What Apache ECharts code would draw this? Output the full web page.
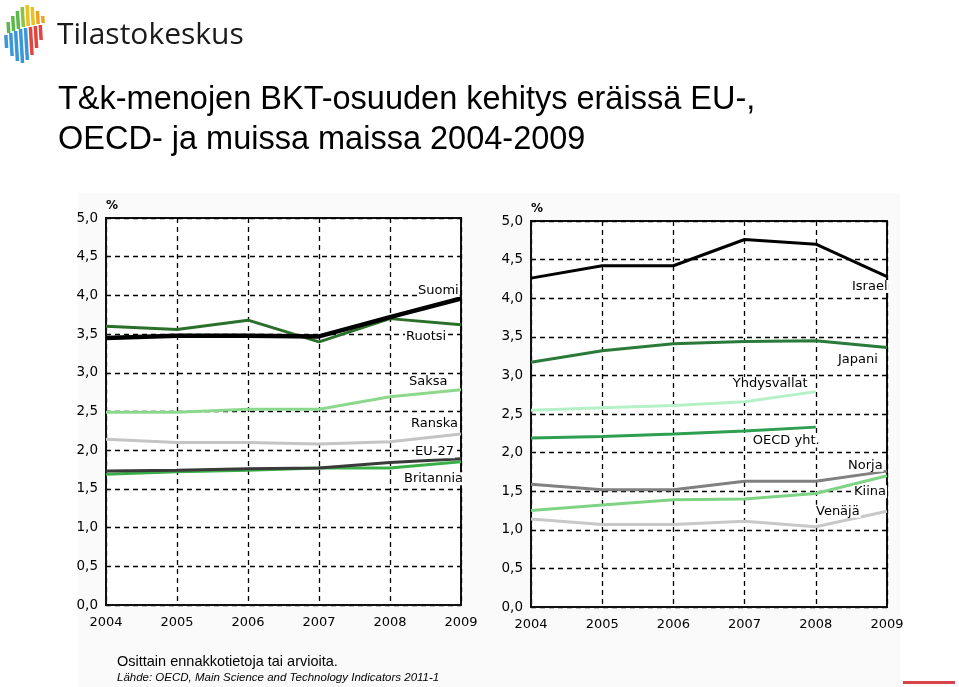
<!DOCTYPE html>
<html><head><meta charset="utf-8">
<script src="https://cdn.jsdelivr.net/npm/echarts@6/dist/echarts.min.js"></script>
<style>html,body{margin:0;padding:0;background:#fff}#c{width:959px;height:687px}</style>
</head><body><div id="c"></div>
<script>
const years = ['2004','2005','2006','2007','2008','2009'];

// Left panel
const suomi     = [3.45,3.48,3.48,3.47,3.72,3.96];
const ruotsi    = [3.60,3.56,3.68,3.40,3.70,3.62];
const saksa     = [2.49,2.49,2.53,2.53,2.69,2.78];
const ranska    = [2.14,2.10,2.10,2.08,2.11,2.21];
const eu27      = [1.73,1.74,1.76,1.77,1.84,1.89];
const britannia = [1.69,1.72,1.74,1.77,1.77,1.85];

// Right panel
const israel      = [4.26,4.42,4.42,4.76,4.70,4.28];
const japani      = [3.17,3.32,3.41,3.44,3.45,3.36];
const yhdysvallat = [2.55,2.58,2.61,2.66,2.79];
const oecd        = [2.19,2.21,2.24,2.28,2.33];
const norja       = [1.59,1.52,1.52,1.63,1.63,1.76];
const kiina       = [1.25,1.32,1.39,1.40,1.47,1.70];
const venaja      = [1.14,1.07,1.07,1.11,1.04,1.24];

const FONT = 'DejaVu Sans';
const dash = [5,4];

function xAx(gi){
  return {type:'category', gridIndex:gi, data:years, boundaryGap:false,
    axisLine:{lineStyle:{color:'#111',width:2}}, axisTick:{show:false},
    axisLabel:{color:'#000',fontFamily:FONT,fontSize:13,margin:11,interval:0},
    splitLine:{show:true,lineStyle:{color:'#000',type:dash,width:1.3}}};
}
function yAx(gi){
  return {type:'value', gridIndex:gi, min:0, max:5, interval:0.5,
    name:'%', nameLocation:'end', nameGap:6,
    nameTextStyle:{align:'left',color:'#000',fontFamily:FONT,fontSize:12,fontWeight:'bold'},
    axisLine:{show:true,lineStyle:{color:'#111',width:2}}, axisTick:{show:false},
    axisLabel:{color:'#000',fontFamily:FONT,fontSize:13.5,margin:8,
      formatter:v=>v.toFixed(1).replace('.',',')},
    splitLine:{show:true,lineStyle:{color:'#000',type:dash,width:1.3}}};
}
function ser(name,data,gi,color,w,off,z){
  return {type:'line', name, data, xAxisIndex:gi, yAxisIndex:gi,
    symbol:'none', smooth:false, z:z||2,
    lineStyle:{color,width:w},
    endLabel:{show:true, formatter:name, position:'left', distance:0,
      offset:off, color:'#000', fontFamily:FONT, fontSize:13,
      backgroundColor:'#fff', padding:[0,1]}};
}

// logo columns: [x, topColor, topStart, topEnd, bottomColor, bottomStart, bottomEnd]
const logoCols = [
  [5,'#5cb84a',22,33,'#3b97d8',35,48],
  [10,'#5cb84a',16,31,'#3b97d8',33,56],
  [15,'#5cb84a',11,29,'#3b97d8',31,61],
  [20,'#8cc63f',7,27,'#3b97d8',29,63],
  [25,'#e9c21f',5,26,'#3b97d8',28,60],
  [30,'#e9c21f',7,25,'#e0463f',27,55],
  [35,'#f0a21f',11,24,'#e0463f',26,48],
  [40,'#f0a21f',16,23,'#e0463f',25,40]
];
const logoGraphics = [];
logoCols.forEach(c=>{
  const [x,tc,t0,t1,bc,b0,b1]=c;
  const sk=0.06;
  logoGraphics.push({type:'polygon',z:10,shape:{points:[[x+t0*sk,t0],[x+3.5+t0*sk,t0],[x+3.5+t1*sk,t1],[x+t1*sk,t1]]},style:{fill:tc}});
  logoGraphics.push({type:'polygon',z:10,shape:{points:[[x-3+b0*sk,b0],[x+0.5+b0*sk,b0],[x+0.5+b1*sk,b1],[x-3+b1*sk,b1]]},style:{fill:bc}});
});

const chart = echarts.init(document.getElementById('c'),null,{renderer:'canvas'});
chart.setOption({
  animation:false,
  backgroundColor:'#fff',
  title:{text:'T&k-menojen BKT-osuuden kehitys eräissä EU-,\nOECD- ja muissa maissa 2004-2009',
    left:58, top:80, padding:0,
    textStyle:{fontFamily:'Liberation Sans',fontSize:32.5,fontWeight:'normal',color:'#000',lineHeight:40}},
  grid:[
    {left:106,right:498,top:218,bottom:82,show:true,borderColor:'#111',borderWidth:2,backgroundColor:'#fff'},
    {left:531,right:72,top:221,bottom:80,show:true,borderColor:'#111',borderWidth:2,backgroundColor:'#fff'}
  ],
  xAxis:[xAx(0),xAx(1)],
  yAxis:[yAx(0),yAx(1)],
  series:[
    ser('Ranska',ranska,0,'#c4c4c4',3,[-51,-10]),
    ser('Saksa',saksa,0,'#8ed88e',3,[-53,-8]),
    ser('Britannia',britannia,0,'#3aaf48',3,[-58,17]),
    ser('EU-27',eu27,0,'#3a3a3a',3,[-47,-7]),
    ser('Ruotsi',ruotsi,0,'#2a6f2a',3,[-56,12]),
    ser('Suomi',suomi,0,'#000',4.5,[-44,-8],3),
    ser('Venäjä',venaja,1,'#c8c8c8',3,[-72,0]),
    ser('Kiina',kiina,1,'#7ed484',3,[-34,16]),
    ser('Norja',norja,1,'#808080',3,[-40,-6]),
    ser('OECD yht.',oecd,1,'#2e9e50',3,[-64,14]),
    ser('Yhdysvallat',yhdysvallat,1,'#b6f0c6',3,[-84,-8]),
    ser('Japani',japani,1,'#2a7a3a',3,[-50,12]),
    ser('Israel',israel,1,'#000',3,[-36,10],3)
  ],
  graphic:[
    {type:'rect',z:-10,silent:true,shape:{x:78,y:193,width:822,height:494},style:{fill:'#fafafa'}},
    ...logoGraphics,
    {type:'text',left:57,top:20,z:10,style:{text:'Tilastokeskus',fontFamily:'Open Sans',fontSize:30,fill:'#1a1a1a'}},
    {type:'text',left:117,top:654,z:10,style:{text:'Osittain ennakkotietoja tai arvioita.',fontFamily:'Liberation Sans',fontSize:14.5,fill:'#000'}},
    {type:'text',left:117,top:672,z:10,style:{text:'Lähde: OECD, Main Science and Technology Indicators 2011-1',fontFamily:'Liberation Sans',fontSize:11.5,fontStyle:'italic',fill:'#000'}},
    {type:'rect',z:10,shape:{x:903,y:681,width:52,height:3},style:{fill:'#d9434a'}}
  ]
});
</script></body></html>
